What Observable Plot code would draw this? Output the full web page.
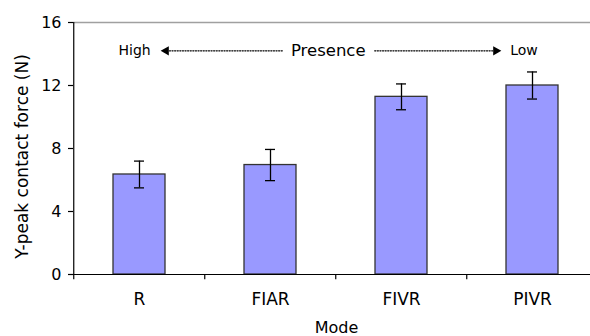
<!DOCTYPE html>
<html><head><meta charset="utf-8">
<script src="https://cdn.jsdelivr.net/npm/d3@7"></script>
<script src="https://cdn.jsdelivr.net/npm/@observablehq/plot@0.6"></script>
<style>
html,body{margin:0;padding:0;background:#fff;overflow:hidden}
#chart svg{max-width:none;display:block}
</style></head><body><div id="chart"></div>
<script>
// ---- data ----
const modes = ["R", "FIAR", "FIVR", "PIVR"];
const forces = [6.35, 6.95, 11.28, 12.0];
const errors = [0.85, 0.99, 0.82, 0.86];
const yTicks = [0, 4, 8, 12, 16];
const yTitle = "Y-peak contact force (N)";
const xTitle = "Mode";
const annoLabels = ["High", "Presence", "Low"];
const annoY = 14.2;

const data = modes.map((m, i) => ({mode: m, force: forces[i], lo: forces[i] - errors[i], hi: forces[i] + errors[i]}));
const halfStep = 65.75;
const font = "DejaVu Sans";

const chart = Plot.plot({
  width: 590,
  height: 336,
  marginLeft: 73,
  marginRight: -9,
  marginTop: 22,
  marginBottom: 62,
  style: {fontFamily: font, fontSize: "16px", color: "#000", background: "#fff"},
  x: {domain: modes, paddingInner: 0.6, paddingOuter: 0.3, axis: null},
  y: {domain: [0, 16], axis: null},
  marks: [
    Plot.ruleY([16], {stroke: "#a0a0a0", strokeWidth: 1.6}),
    Plot.barY(data, {x: "mode", y: "force", fill: "#9999ff", stroke: "#333", strokeWidth: 1.3}),
    Plot.ruleX(data, {x: "mode", y1: "lo", y2: "hi", stroke: "#000", strokeWidth: 1.3}),
    Plot.tickY(data, {x: "mode", y: "lo", stroke: "#000", strokeWidth: 1.3, insetLeft: 21, insetRight: 21}),
    Plot.tickY(data, {x: "mode", y: "hi", stroke: "#000", strokeWidth: 1.3, insetLeft: 21, insetRight: 21}),
    Plot.ruleY([0], {stroke: "#000", strokeWidth: 1.2}),
    Plot.ruleX([modes[0]], {y1: 0, y2: 16, dx: -halfStep, stroke: "#000", strokeWidth: 1.2}),
    Plot.ruleX(modes, {y1: 0, y2: -0.33, dx: -halfStep, stroke: "#000", strokeWidth: 1.2}),
    Plot.axisY({ticks: yTicks, tickSize: 5, tickPadding: 7, fontSize: 16, label: null, stroke: "#000", strokeWidth: 1.2}),
    Plot.axisX({tickSize: 0, tickPadding: 18, fontSize: 17, label: null}),
    Plot.text([yTitle], {frameAnchor: "left", textAnchor: "middle", rotate: -90, dx: -51, dy: 8, fontSize: 17}),
    Plot.text([xTitle], {frameAnchor: "bottom", lineAnchor: "top", dy: 47, fontSize: 16}),
    // annotation
    Plot.text([annoLabels[0]], {x: () => modes[0], y: () => annoY, textAnchor: "end", dx: 11.25, fontSize: 14, lineAnchor: "middle"}),
    Plot.text([annoLabels[1]], {x: () => modes[1], y: () => annoY, textAnchor: "middle", dx: 57.75, fontSize: 16.5, lineAnchor: "middle"}),
    Plot.text([annoLabels[2]], {x: () => modes[3], y: () => annoY, textAnchor: "start", dx: -22.25, fontSize: 14, lineAnchor: "middle"}),
    Plot.arrow([{a: modes[1], b: modes[0]}], {x1: "a", x2: "b", y1: () => annoY, y2: () => annoY, dx: 11.75, insetEnd: 18, headLength: 0, stroke: "#000", strokeWidth: 1.4, strokeDasharray: "1,1.6"}),
    Plot.arrow([{a: modes[2], b: modes[3]}], {x1: "a", x2: "b", y1: () => annoY, y2: () => annoY, dx: -26.75, insetEnd: 12, headLength: 0, stroke: "#000", strokeWidth: 1.4, strokeDasharray: "1,1.6"}),
    Plot.dot([modes[0]], {x: d => d, y: () => annoY, symbol: "triangle", r: 3.5, rotate: -90, dx: 26.6, fill: "#000", stroke: null}),
    Plot.dot([modes[3]], {x: d => d, y: () => annoY, symbol: "triangle", r: 3.5, rotate: 90, dx: -36.6, fill: "#000", stroke: null})
  ]
});
document.getElementById("chart").appendChild(chart);
</script>
</body></html>
